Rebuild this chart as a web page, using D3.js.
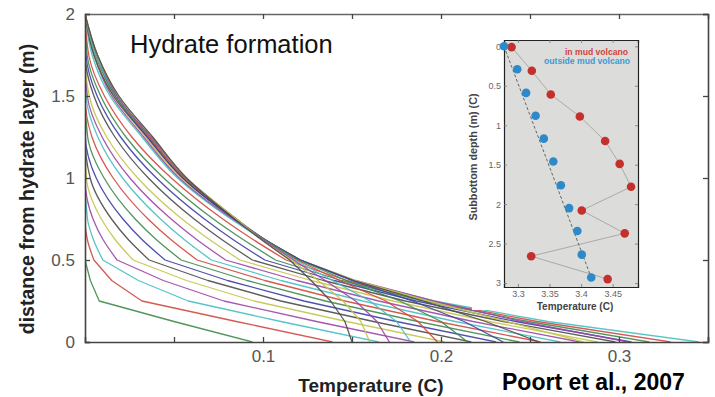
<!DOCTYPE html>
<html><head><meta charset="utf-8">
<script src="https://cdn.jsdelivr.net/npm/d3@7"></script>
<style>
html,body{margin:0;padding:0;background:#fff;}
svg{display:block;font-family:"Liberation Sans",Arial,sans-serif;}
</style></head>
<body>
<svg id="c" width="715" height="397"></svg>
<script>
// ---------------- data ----------------
const heights = [0, 0.125, 0.25, 0.375, 0.5, 0.625, 0.75, 1.0, 1.25, 1.5, 1.75, 2.0];
// growth-phase temperature profiles (T at each height)
const growthProfiles = [
  [0,0,0,0,0,0,0,0,0,0,0,0],
  [.094,.05,.008,.003,0,0,0,0,0,0,0,0],
  [.139,.085,.032,.015,.005,.0013,0,0,0,0,0,0],
  [.165,.11,.058,.03,.01,.0047,.0014,0,0,0,0,0],
  [.185,.13,.078,.044,.018,.0101,.0045,0,0,0,0,0],
  [.202,.147,.095,.057,.027,.0169,.0092,.0008,0,0,0,0],
  [.217,.162,.11,.069,.036,.0243,.0149,.0029,0,0,0,0],
  [.231,.175,.123,.08,.045,.032,.0213,.0063,.0002,0,0,0],
  [.244,.187,.135,.091,.054,.04,.0282,.0107,.0015,0,0,0],
  [.256,.198,.146,.101,.063,.0482,.0354,.0158,.0039,0,0,0],
  [.267,.208,.156,.11,.071,.0557,.0424,.0211,.0072,.0006,0,0],
  [.278,.218,.165,.119,.079,.0627,.0484,.0252,.0096,.0013,0,0],
  [.288,.227,.173,.127,.087,.0699,.0545,.0296,.0122,.0024,0,0],
  [.298,.235,.18,.134,.094,.0768,.0613,.0356,.0168,.005,.0001,0],
  [.307,.242,.186,.14,.101,.0831,.0671,.0401,.02,.0068,.0006,0],
  [.317,.249,.19,.144,.107,.0888,.0721,.0442,.023,.0088,.0012,0],
  [.329,.254,.194,.147,.113,.0944,.0774,.0485,.0263,.0109,.0021,0],
  [.345,.26,.196,.15,.12,.1,.082,.052,.032,.014,.004,0]
];
// cooling-phase profiles
const coolingProfiles = [
  [.305,.245,.196,.152,.121,.101,.083,.053,.033,.015,.005,0],
  [.28,.237,.193,.152,.121,.101,.084,.054,.034,.016,.005,0],
  [.255,.225,.19,.151,.121,.101,.084,.055,.035,.016,.005,0],
  [.235,.213,.184,.15,.121,.101,.084,.055,.035,.017,.006,0],
  [.215,.2,.177,.147,.12,.101,.085,.056,.036,.017,.006,0],
  [.198,.187,.169,.143,.119,.1,.085,.056,.036,.018,.006,0],
  [.183,.175,.16,.139,.118,.1,.085,.057,.037,.018,.006,0],
  [.171,.164,.152,.135,.117,.1,.085,.057,.037,.018,.007,0],
  [.16,.155,.145,.131,.116,.099,.085,.057,.038,.019,.007,0],
  [.15,.146,.138,.127,.115,.099,.084,.057,.038,.019,.007,0]
];
const colorCycle = ["#3b3fa6","#3d8a4a","#d0483f","#45bfc2","#9c45a6","#c4c44a","#4a4a4a"];
const xTicks = [0.05,0.1,0.15,0.2,0.25,0.3,0.35];
const xTickLabels = {"0.1":"0.1","0.2":"0.2","0.3":"0.3"};
const yTicks = [0,0.5,1,1.5,2];

// inset data
const blueT = [3.278,3.299,3.313,3.328,3.341,3.356,3.368,3.381,3.394,3.401,3.416];
const blueD = [0,0.29,0.59,0.88,1.17,1.46,1.76,2.05,2.34,2.64,2.93];
const redT  = [3.290,3.322,3.352,3.398,3.438,3.461,3.479,3.401,3.469,3.321,3.442];
const redD  = [0.01,0.31,0.61,0.89,1.2,1.49,1.78,2.08,2.37,2.66,2.95];
const insetXTicks = [3.3,3.35,3.4,3.45];
const insetYTicks = [0,0.5,1,1.5,2,2.5,3];

// ---------------- chart ----------------
const svg = d3.select("#c");
const L=85,R=708,T=14,B=342;
const x = d3.scaleLinear().domain([0,0.35]).range([L,R]);
const y = d3.scaleLinear().domain([0,2]).range([B,T]);

svg.append("defs").append("clipPath").attr("id","pc")
  .append("rect").attr("x",L).attr("y",T).attr("width",R-L).attr("height",B-T);

const allProfiles = growthProfiles.concat(coolingProfiles);
const lineLow = d3.line().x(d=>x(d[0])).y(d=>y(d[1]));
const lineHigh = d3.line().x(d=>x(d[0])).y(d=>y(d[1])).curve(d3.curveMonotoneY);
const gCurves = svg.append("g").attr("clip-path","url(#pc)");
allProfiles.forEach((p,i)=>{
  const pts = p.map((t,k)=>[t,heights[k]]);
  const low = pts.filter(d=>d[1]<=0.5), high = pts.filter(d=>d[1]>=0.5);
  const dHigh = lineHigh(high);
  gCurves.append("path")
    .attr("d", lineLow(low) + "L" + dHigh.slice(1))
    .attr("fill","none")
    .attr("stroke", colorCycle[i%7])
    .attr("stroke-width",1.3)
    .attr("stroke-linejoin","round")
    .attr("opacity",0.9);
});

// axes
const axColor="#444";
const gx = svg.append("g").attr("transform",`translate(0,${B})`)
  .call(d3.axisBottom(x).tickValues(xTicks).tickSize(-5).tickPadding(8)
    .tickFormat(d=>xTickLabels[String(d)]||""));
const gxt = svg.append("g").attr("transform",`translate(0,${T})`)
  .call(d3.axisTop(x).tickValues(xTicks).tickSize(-5).tickFormat(""));
const gy = svg.append("g").attr("transform",`translate(${L},0)`)
  .call(d3.axisLeft(y).tickValues(yTicks).tickSize(-5).tickPadding(10).tickFormat(d3.format("")));
const gyr = svg.append("g").attr("transform",`translate(${R},0)`)
  .call(d3.axisRight(y).tickValues(yTicks).tickSize(-5).tickFormat(""));
[gx,gxt,gy,gyr].forEach(g=>{
  g.select(".domain").attr("stroke",axColor).attr("stroke-width",1.6);
  g.selectAll(".tick line").attr("stroke",axColor).attr("stroke-width",1.3);
  g.selectAll(".tick text").attr("fill","#555").attr("font-size",17)
   .attr("font-family","Liberation Sans, Arial, sans-serif");
});
gxt.select(".domain").attr("stroke","#666").attr("stroke-width",1.3);

// titles
svg.append("text").attr("x",130).attr("y",53).attr("font-size",25.5).attr("fill","#111")
  .text("Hydrate formation");
svg.append("text").attr("transform",`translate(34,${(40+338)/2}) rotate(-90)`)
  .attr("text-anchor","middle").attr("font-size",19.5).attr("font-weight","bold").attr("fill","#222")
  .text("distance from hydrate layer (m)");
svg.append("text").attr("x",371).attr("y",392).attr("text-anchor","middle")
  .attr("font-size",19).attr("font-weight","bold").attr("fill","#222").text("Temperature (C)");
svg.append("text").attr("x",502).attr("y",390)
  .attr("font-size",23).attr("font-weight","bold").attr("fill","#000").text("Poort et al., 2007");

// ---------------- inset ----------------
svg.append("rect").attr("x",472).attr("y",20).attr("width",216).attr("height",290).attr("fill","#fff");
const iL=504,iR=638,iT=40,iB=287;
const ix = d3.scaleLinear().domain([3.278,3.49]).range([iL,iR]);
const iy = d3.scaleLinear().domain([-0.08,3.05]).range([iT,iB]);
svg.append("rect").attr("x",iL).attr("y",iT).attr("width",iR-iL).attr("height",iB-iT)
  .attr("fill","#dcdcda");

const gi = svg.append("g");
const ixa = gi.append("g").attr("transform",`translate(0,${iB})`)
  .call(d3.axisBottom(ix).tickValues(insetXTicks).tickSize(-3).tickPadding(4).tickFormat(d=>String(d)));
const ixt = gi.append("g").attr("transform",`translate(0,${iT})`)
  .call(d3.axisTop(ix).tickValues(insetXTicks).tickSize(-3).tickFormat(""));
const iya = gi.append("g").attr("transform",`translate(${iL},0)`)
  .call(d3.axisLeft(iy).tickValues(insetYTicks).tickSize(-3).tickPadding(3).tickFormat(d=>String(d)));
const iyr = gi.append("g").attr("transform",`translate(${iR},0)`)
  .call(d3.axisRight(iy).tickValues(insetYTicks).tickSize(-3).tickFormat(""));
[ixa,ixt,iya,iyr].forEach(g=>{
  g.select(".domain").attr("stroke","#222").attr("stroke-width",1.2);
  g.selectAll(".tick line").attr("stroke","#777").attr("stroke-width",0.8);
  g.selectAll(".tick text").attr("fill","#666").attr("font-size",9)
    .attr("font-family","Liberation Sans, Arial, sans-serif");
});

const iline = d3.line().x(d=>ix(d[0])).y(d=>iy(d[1]));
const redPts = redT.map((t,i)=>[t,redD[i]]);
const bluePts = blueT.map((t,i)=>[t,blueD[i]]);
gi.append("path").attr("d",iline(redPts)).attr("fill","none").attr("stroke","#aaa").attr("stroke-width",1);
gi.append("path").attr("d",iline([bluePts[0],bluePts[bluePts.length-1]])).attr("fill","none")
  .attr("stroke","#666").attr("stroke-width",1).attr("stroke-dasharray","3,2");
gi.selectAll("circle.r").data(redPts).enter().append("circle")
  .attr("cx",d=>ix(d[0])).attr("cy",d=>iy(d[1])).attr("r",4.3).attr("fill","#c4302b");
gi.selectAll("circle.b").data(bluePts).enter().append("circle")
  .attr("cx",d=>ix(d[0])).attr("cy",d=>iy(d[1])).attr("r",4.3).attr("fill","#2c8acb");

gi.append("text").attr("x",628).attr("y",55).attr("text-anchor","end").attr("font-size",8.6)
  .attr("font-weight","bold").attr("fill","#d0433c").text("in mud volcano");
gi.append("text").attr("x",630).attr("y",64).attr("text-anchor","end").attr("font-size",8.6)
  .attr("font-weight","bold").attr("fill","#3a9ad6").text("outside mud volcano");
gi.append("text").attr("x",575).attr("y",310).attr("text-anchor","middle").attr("font-size",10)
  .attr("font-weight","bold").attr("fill","#444").text("Temperature (C)");
gi.append("text").attr("transform",`translate(477,157) rotate(-90)`).attr("text-anchor","middle")
  .attr("font-size",10.8).attr("font-weight","bold").attr("fill","#444").text("Subbottom depth (m) (C)");
</script>
</body></html>
